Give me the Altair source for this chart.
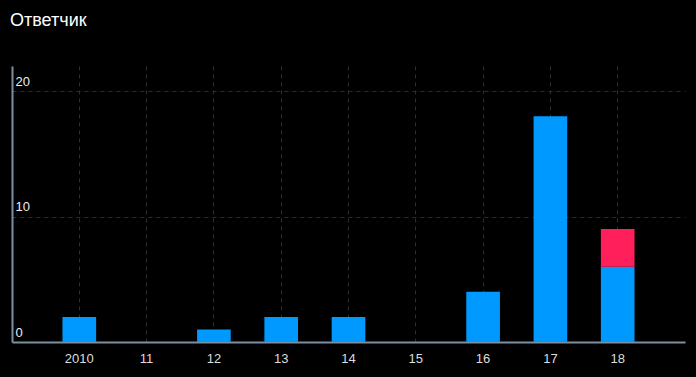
import altair as alt
import pandas as pd

categories = ["2010", "11", "12", "13", "14", "15", "16", "17", "18"]
series_blue = [2, 0, 1, 2, 2, 0, 4, 18, 6]
series_red = [0, 0, 0, 0, 0, 0, 0, 0, 3]
series_names = ["A", "B"]
colors = ["#0099ff", "#ff1f5a"]

rows = []
for c, b, r in zip(categories, series_blue, series_red):
    rows.append({"cat": c, "series": series_names[0], "value": b, "order": 0})
    rows.append({"cat": c, "series": series_names[1], "value": r, "order": 1})
df = pd.DataFrame(rows)

chart = alt.Chart(df).mark_bar().encode(
    x=alt.X("cat:N", sort=categories,
            scale=alt.Scale(paddingInner=0.5, paddingOuter=0.75),
            axis=alt.Axis(title=None, labelAngle=0, ticks=False, grid=True,
                          bandPosition=0.5, labelColor="#dddddd", labelFontSize=13,
                          labelFont="Liberation Sans", labelPadding=10,
                          domainColor="#7a8fa0", domainWidth=2,
                          gridColor="#2c2c38", gridDash=[4, 4])),
    y=alt.Y("value:Q", stack="zero", scale=alt.Scale(domain=[0, 22], nice=False),
            axis=alt.Axis(title=None, values=[0, 10, 20], ticks=False,
                          labelAlign="left", labelBaseline="bottom", labelPadding=-3,
                          labelOffset=-3, labelColor="#eeeeee", labelFontSize=13,
                          labelFont="Liberation Sans",
                          domainColor="#7a8fa0", domainWidth=2,
                          gridColor="#2c2c38", gridDash=[4, 4])),
    color=alt.Color("series:N", scale=alt.Scale(domain=series_names, range=colors), legend=None),
    order=alt.Order("order:Q"),
).properties(
    width=673, height=276,
    padding={"left": 12, "top": 66, "right": 11, "bottom": 35},
    autosize=alt.AutoSizeParams(type="none"),
    background="#000000",
    title=alt.TitleParams("Ответчик", anchor="start", fontSize=18, fontWeight="normal",
                          font="Liberation Sans", color="#ffffff", dx=-2, offset=22,
                          baseline="alphabetic", frame="group"),
).configure_view(stroke=None)

chart.save("out.html", embed_options={"renderer": "svg", "actions": False})
